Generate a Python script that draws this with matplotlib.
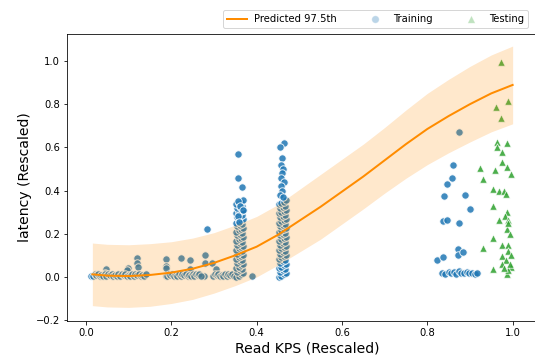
import matplotlib
matplotlib.use('Agg')
import matplotlib.pyplot as plt

# quantile fit (predicted 97.5th) and its band
fit_x = [0.015, 0.05, 0.1, 0.15, 0.2, 0.25, 0.3, 0.35, 0.4, 0.45, 0.5,
         0.55, 0.6, 0.65, 0.7, 0.75, 0.8, 0.85, 0.9, 0.95, 1.0]
fit_y = [0.012, 0.006, 0.004, 0.009, 0.02, 0.038, 0.065, 0.10, 0.14, 0.195, 0.26,
         0.325, 0.395, 0.465, 0.54, 0.615, 0.685, 0.745, 0.80, 0.85, 0.889]
band_hi = [0.157, 0.151, 0.149, 0.154, 0.163, 0.18, 0.205, 0.24, 0.28, 0.335, 0.405,
           0.475, 0.545, 0.615, 0.692, 0.773, 0.85, 0.915, 0.975, 1.028, 1.069]
band_lo = [-0.133, -0.139, -0.141, -0.136, -0.123, -0.104, -0.075, -0.04, 0.0, 0.055, 0.115,
           0.175, 0.245, 0.315, 0.388, 0.457, 0.52, 0.575, 0.625, 0.672, 0.709]

# training points: scattered low-KPS points
low_x = [0.012, 0.02, 0.047, 0.045, 0.061, 0.098, 0.096, 0.12, 0.12, 0.122, 0.187, 0.187,
         0.187, 0.187, 0.222, 0.244, 0.244, 0.28, 0.277, 0.28, 0.283, 0.295, 0.305, 0.39]
low_y = [0.005, 0.008, 0.037, 0.02, 0.005, 0.04, 0.03, 0.088, 0.065, 0.045, 0.083, 0.05,
         0.04, 0.005, 0.088, 0.078, 0.035, 0.10, 0.005, 0.065, 0.22, 0.065, 0.037, 0.005]

# dense strips of near-zero latency
strip_x = [0.016, 0.02, 0.024, 0.028, 0.032, 0.036, 0.04, 0.044, 0.048, 0.052, 0.056,
           0.06, 0.064, 0.068, 0.072, 0.076, 0.08, 0.084, 0.088, 0.092, 0.096, 0.10,
           0.104, 0.108, 0.112, 0.116, 0.12, 0.124, 0.128, 0.132, 0.136, 0.14,
           0.19, 0.194, 0.198, 0.202, 0.206, 0.21, 0.214, 0.218, 0.222, 0.226, 0.23,
           0.234, 0.238, 0.242, 0.246, 0.25, 0.254, 0.258, 0.262, 0.266, 0.27,
           0.298, 0.302, 0.306, 0.31, 0.314, 0.318, 0.322, 0.326, 0.33, 0.334, 0.338,
           0.342, 0.346]
strip_y = [0.004, 0.012, 0.007, 0.014, 0.003, 0.01, 0.006, 0.013, 0.004, 0.012, 0.007,
           0.014, 0.003, 0.01, 0.006, 0.013, 0.004, 0.012, 0.007, 0.014, 0.003, 0.01,
           0.006, 0.013, 0.004, 0.012, 0.007, 0.014, 0.003, 0.01, 0.006, 0.013,
           0.004, 0.012, 0.007, 0.014, 0.003, 0.01, 0.006, 0.013, 0.004, 0.012, 0.007,
           0.014, 0.003, 0.01, 0.006, 0.013, 0.004, 0.012, 0.007, 0.014, 0.003,
           0.004, 0.012, 0.007, 0.014, 0.003, 0.01, 0.006, 0.013, 0.004, 0.012, 0.007,
           0.014, 0.003]

# vertical column around 0.36
col1_x = [0.352, 0.358, 0.364, 0.368, 0.355, 0.361, 0.366, 0.352, 0.358, 0.364,
          0.368, 0.355, 0.361, 0.366, 0.352, 0.358, 0.364, 0.368, 0.355, 0.361,
          0.366, 0.352, 0.358, 0.364, 0.368, 0.355, 0.361, 0.366, 0.352, 0.358,
          0.364, 0.368, 0.355, 0.361, 0.366, 0.352, 0.358, 0.364, 0.368, 0.355,
          0.361, 0.366, 0.352, 0.358, 0.364, 0.368, 0.355, 0.361, 0.366, 0.352,
          0.358, 0.364, 0.368, 0.355, 0.361, 0.366, 0.352, 0.358, 0.364, 0.368,
          0.356, 0.356, 0.366, 0.357, 0.362, 0.368, 0.356, 0.358]
col1_y = [0.0, 0.006, 0.012, 0.018, 0.024, 0.03, 0.036, 0.042, 0.048, 0.054,
          0.06, 0.066, 0.072, 0.078, 0.084, 0.09, 0.096, 0.102, 0.108, 0.114,
          0.12, 0.126, 0.132, 0.138, 0.144, 0.15, 0.156, 0.162, 0.168, 0.174,
          0.18, 0.186, 0.192, 0.198, 0.204, 0.21, 0.216, 0.222, 0.228, 0.234,
          0.24, 0.246, 0.252, 0.258, 0.264, 0.27, 0.276, 0.282, 0.288, 0.294,
          0.30, 0.306, 0.312, 0.318, 0.324, 0.33, 0.336, 0.342, 0.348, 0.354,
          0.57, 0.46, 0.417, 0.35, 0.33, 0.31, 0.28, 0.255]

# vertical column around 0.46
col2_x = [0.452, 0.458, 0.464, 0.468, 0.455, 0.461, 0.466, 0.452, 0.458, 0.464,
          0.468, 0.455, 0.461, 0.466, 0.452, 0.458, 0.464, 0.468, 0.455, 0.461,
          0.466, 0.452, 0.458, 0.464, 0.468, 0.455, 0.461, 0.466, 0.452, 0.458,
          0.464, 0.468, 0.455, 0.461, 0.466, 0.452, 0.458, 0.464, 0.468, 0.455,
          0.461, 0.466, 0.452, 0.458, 0.464, 0.468, 0.455, 0.461, 0.466, 0.452,
          0.458, 0.464, 0.468, 0.455, 0.461, 0.466, 0.452, 0.458, 0.464, 0.468,
          0.463, 0.455, 0.46, 0.457, 0.462, 0.46, 0.456, 0.463, 0.458, 0.46, 0.455, 0.462]
col2_y = [0.0, 0.006, 0.012, 0.018, 0.024, 0.03, 0.036, 0.042, 0.048, 0.054,
          0.06, 0.066, 0.072, 0.078, 0.084, 0.09, 0.096, 0.102, 0.108, 0.114,
          0.12, 0.126, 0.132, 0.138, 0.144, 0.15, 0.156, 0.162, 0.168, 0.174,
          0.18, 0.186, 0.192, 0.198, 0.204, 0.21, 0.216, 0.222, 0.228, 0.234,
          0.24, 0.246, 0.252, 0.258, 0.264, 0.27, 0.276, 0.282, 0.288, 0.294,
          0.30, 0.306, 0.312, 0.318, 0.324, 0.33, 0.336, 0.342, 0.348, 0.354,
          0.62, 0.60, 0.55, 0.52, 0.50, 0.48, 0.46, 0.44, 0.42, 0.40, 0.38, 0.37]

# high-KPS training cluster
high_x = [0.875, 0.861, 0.859, 0.845, 0.84, 0.889, 0.90, 0.837, 0.846, 0.874, 0.823,
          0.837, 0.872, 0.872, 0.884, 0.835, 0.842, 0.85, 0.856, 0.862, 0.868, 0.874,
          0.88, 0.886, 0.892, 0.898, 0.905, 0.912, 0.917]
high_y = [0.67, 0.52, 0.46, 0.43, 0.375, 0.38, 0.315, 0.26, 0.264, 0.25, 0.08,
          0.093, 0.13, 0.10, 0.115, 0.02, 0.015, 0.025, 0.018, 0.022, 0.015, 0.028,
          0.02, 0.016, 0.024, 0.018, 0.02, 0.015, 0.018]

train_x = low_x + strip_x + col1_x + col2_x + high_x
train_y = low_y + strip_y + col1_y + col2_y + high_y

test_x = [0.973, 0.99, 0.96, 0.973, 0.963, 0.987, 0.963, 0.975, 0.975, 0.987, 0.997,
          0.923, 0.958, 0.93, 0.955, 0.968, 0.98, 0.985, 0.955, 0.987, 0.982, 0.968,
          0.99, 0.987, 0.955, 0.93, 0.975, 0.99, 0.975, 0.985, 0.975, 0.995, 0.955,
          0.987, 0.99, 0.99, 0.993, 0.99, 0.995, 0.993, 0.98]
test_y = [0.995, 0.815, 0.787, 0.737, 0.625, 0.62, 0.60, 0.58, 0.53, 0.51, 0.477,
          0.505, 0.495, 0.453, 0.407, 0.40, 0.40, 0.385, 0.33, 0.30, 0.28, 0.265,
          0.265, 0.22, 0.18, 0.135, 0.148, 0.148, 0.097, 0.08, 0.06, 0.046, 0.036,
          0.014, 0.03, 0.25, 0.2, 0.12, 0.1, 0.06, 0.04]

fig = plt.figure(figsize=(535 / 72, 358 / 72), dpi=72)
ax = fig.add_axes([0.1252, 0.1034, 0.9, 0.8017])

ax.scatter(train_x, train_y, s=55, color='tab:blue', edgecolor='white',
           linewidths=1.0, alpha=0.85, label='Training', zorder=2)
ax.scatter(test_x, test_y, s=55, marker='^', color='tab:green', edgecolor='white',
           linewidths=0.8, alpha=0.85, label='Testing', zorder=2)
ax.fill_between(fit_x, band_lo, band_hi, color='darkorange', alpha=0.2,
                linewidth=0, zorder=3)
ax.plot(fit_x, fit_y, color='darkorange', lw=2, label='Predicted 97.5th', zorder=4)

ax.set_xlim(-0.0445, 1.084)
ax.set_ylim(-0.204, 1.125)
ax.set_xticks([0.0, 0.2, 0.4, 0.6, 0.8, 1.0])
ax.set_yticks([-0.2, 0.0, 0.2, 0.4, 0.6, 0.8, 1.0])
ax.set_xlabel('Read KPS (Rescaled)', fontsize=14)
ax.set_ylabel('latency (Rescaled)', fontsize=14)

handles, labels = ax.get_legend_handles_labels()
order = [2, 0, 1]
leg = ax.legend([handles[i] for i in order], [labels[i] for i in order],
                ncol=3, loc='lower right', bbox_transform=fig.transFigure,
                bbox_to_anchor=(533 / 535, 1 - 33 / 358), fontsize=10,
                columnspacing=2.8)
for h in leg.legend_handles[1:]:
    h.set_alpha(0.3)

fig.savefig('out.png', dpi=72)
